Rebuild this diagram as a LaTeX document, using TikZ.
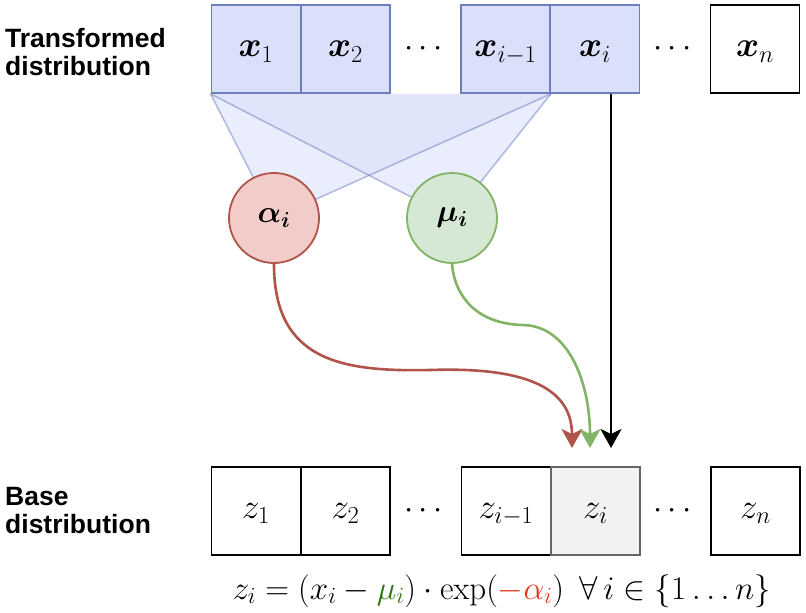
\RequirePackage{fix-cm}
\documentclass[tikz,border=0pt]{standalone}
\usepackage{amsmath,bm}
\usepackage{fontspec}
\newfontfamily\labelfont{Liberation Sans}
\usetikzlibrary{arrows.meta,backgrounds}
\definecolor{bfill}{RGB}{218,224,250}
\definecolor{bdraw}{RGB}{108,126,190}
\definecolor{rfill}{RGB}{241,204,201}
\definecolor{rdraw}{RGB}{176,84,74}
\definecolor{gfill}{RGB}{213,232,212}
\definecolor{gdraw}{RGB}{130,179,102}
\definecolor{zfill}{RGB}{242,242,242}
\definecolor{zdraw}{RGB}{102,102,102}
\definecolor{eqgreen}{RGB}{40,120,10}
\definecolor{eqred}{RGB}{232,52,30}
\begin{document}
\begin{tikzpicture}[x=1pt,y=-1pt,
  cell/.style={draw=black, fill=white, line width=1.8pt, minimum width=89pt, minimum height=88pt, inner sep=0pt, text depth=0pt, font=\fontsize{35}{40}\selectfont},
  topcell/.style={cell, draw=bdraw, fill=bfill},
  greycell/.style={cell, draw=zdraw, fill=zfill},
  dotsnode/.style={inner sep=0pt, font=\fontsize{33}{38}\selectfont},
  param/.style={circle, line width=1.8pt, minimum size=90pt, inner sep=0pt, font=\fontsize{31}{36}\selectfont},
  sidelabel/.style={anchor=base west, align=left, inner sep=0pt, font=\labelfont\bfseries\fontsize{26.5}{28}\selectfont},
  fanfill/.style={fill=bfill, fill opacity=0.55},
  fanline/.style={draw=bdraw, draw opacity=0.5, line width=1.5pt},
  flow/.style={line width=2.6pt, -{Stealth[length=19pt, width=21pt, inset=5pt]}}
]
\useasboundingbox (0,0) rectangle (806,613);

% labels
\node[sidelabel] (tlab) at (5,75) {Transformed\\distribution};
\node[sidelabel] (blab) at (5,533) {Base\\distribution};

% top row
\node[topcell] (x1) at (256,49) {$\bm{x}_1$};
\node[topcell] (x2) at (345.5,49) {$\bm{x}_2$};
\node[dotsnode] (d1) at (426,49) {$\cdots$};
\node[topcell] (xim) at (505.5,49) {$\bm{x}_{i-1}$};
\node[topcell] (xi) at (595,49) {$\bm{x}_i$};
\node[dotsnode] (d2) at (675,49) {$\cdots$};
\node[cell] (xn) at (755,49) {$\bm{x}_n$};

% parameters
\node[param, draw=rdraw, fill=rfill] (alpha) at (274,218) {$\bm{\alpha_i}$};
\node[param, draw=gdraw, fill=gfill] (mu) at (452,218) {$\bm{\mu_i}$};

% fan (behind)
\begin{scope}[on background layer]
  \fill[white] (0,0) rectangle (806,613);
  \path[fanfill] (x1.south west) -- (xim.south east) -- (alpha.center) -- cycle;
  \path[fanfill] (x1.south west) -- (xim.south east) -- (mu.center) -- cycle;
  \path[fanline] (x1.south west) -- (alpha.center);
  \path[fanline] (xim.south east) -- (alpha.center);
  \path[fanline] (x1.south west) -- (mu.center);
  \path[fanline] (xim.south east) -- (mu.center);
\end{scope}

% bottom row
\node[cell] (z1) at (256,511) {$z_1$};
\node[cell] (z2) at (345.5,511) {$z_2$};
\node[dotsnode] (d3) at (426,511) {$\cdots$};
\node[cell] (zim) at (506,511) {$z_{i-1}$};
\node[greycell] (zi) at (595.5,511) {$z_i$};
\node[dotsnode] (d4) at (675,511) {$\cdots$};
\node[cell] (zn) at (755.5,511) {$z_n$};

% arrow ends
\coordinate (ta) at (572,448);
\coordinate (tm) at (590,448);
\coordinate (tk) at (611,448);

\draw[flow, rdraw] (alpha.south) .. controls (274,360) and (340,372) .. (430,370)
   .. controls (520,367) and (572,385) .. (ta);
\draw[flow, gdraw] (mu.south) .. controls (455,298) and (478,324) .. (523,325)
   .. controls (570,326) and (590,385) .. (tm);
\draw[flow, black] (tk |- xi.south) -- (tk);

% equation
\node[anchor=base, inner sep=0pt, font=\fontsize{33}{38}\selectfont] (eq) at (502,599)
  {$z_i = (x_i - {\color{eqgreen}\mu_i}) \cdot \exp({\color{eqred}-\alpha_i})\ \,\forall\, i \in \{1 \ldots n\}$};
\end{tikzpicture}
\end{document}
